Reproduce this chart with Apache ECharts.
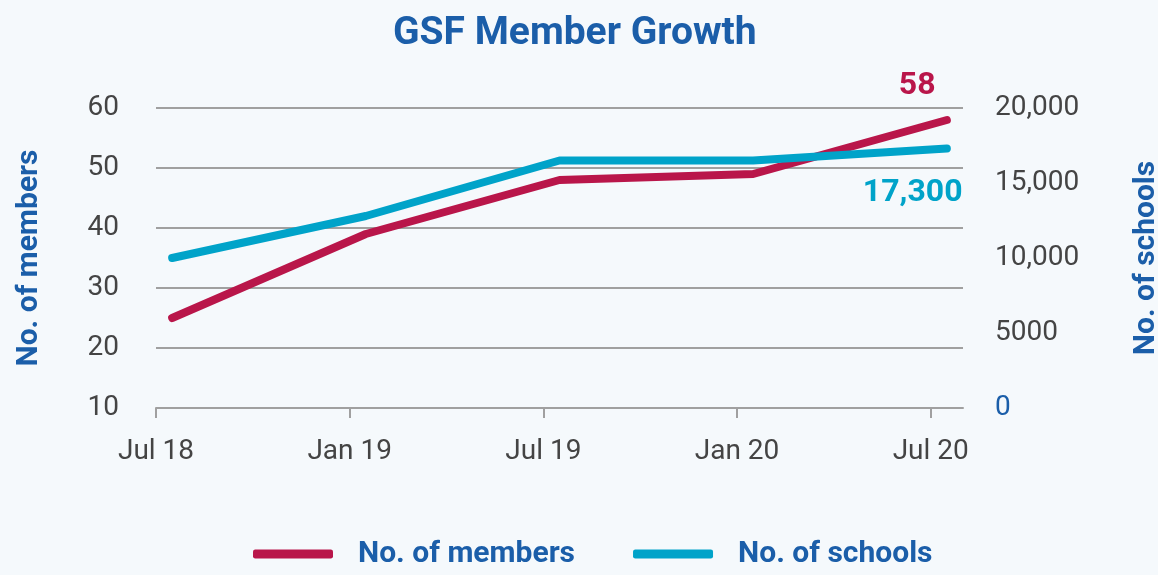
<!DOCTYPE html>
<html>
<head>
<meta charset="utf-8">
<script src="https://cdn.jsdelivr.net/npm/echarts@6/dist/echarts.min.js"></script>
<style>
  html, body { margin: 0; padding: 0; background: #f5f9fc; }
  #chart { width: 1158px; height: 575px; }
</style>
</head>
<body>
<div id="chart"></div>
<script>
// months since Jul 18 (points sit mid-month)
const monthPos = [0.5, 6.5, 12.5, 18.5, 24.5];
const members = [25, 39, 48, 49, 58];
const schools = [10000, 12800, 16500, 16500, 17300];
const xTickPos = [0, 6, 12, 18, 24];
const xTickLabels = ['Jul 18', 'Jan 19', 'Jul 19', 'Jan 20', 'Jul 20'];
const rightTickLabels = { 0: '0', 5000: '5000', 10000: '10,000', 15000: '15,000', 20000: '20,000' };

const BLUE = '#1b5ea9';
const RED = '#b9164a';
const TEAL = '#00a3c9';
const FONT = 'Roboto';

const chart = echarts.init(document.getElementById('chart'));

const option = {
  backgroundColor: '#f5f9fc',
  textStyle: { fontFamily: FONT },
  title: {
    text: 'GSF Member Growth',
    left: 388,
    top: 10,
    textStyle: { color: BLUE, fontSize: 39, fontWeight: 'bold', fontFamily: FONT }
  },
  legend: {
    bottom: 1,
    left: 248,
    icon: 'roundRect',
    itemWidth: 80,
    itemHeight: 9,
    itemGap: 58,
    textStyle: { color: BLUE, fontSize: 30, fontWeight: 'bold', padding: [0, 0, 0, 20] },
    data: ['No. of members', 'No. of schools']
  },
  grid: { left: 156, right: 195, top: 108, bottom: 167, outerBoundsMode: 'none' },
  xAxis: {
    type: 'value',
    min: 0,
    max: 25,
    axisLine: { lineStyle: { color: '#a0a0a0', width: 2 } },
    axisTick: { show: true, length: 10, customValues: xTickPos, lineStyle: { color: '#a0a0a0', width: 2 } },
    axisLabel: {
      customValues: xTickPos,
      color: '#444',
      fontSize: 28,
      margin: 30,
      formatter: v => xTickLabels[xTickPos.indexOf(v)] || ''
    },
    splitLine: { show: false }
  },
  yAxis: [
    {
      type: 'value',
      min: 10,
      max: 60,
      interval: 10,
      name: 'No. of members',
      nameLocation: 'middle',
      nameRotate: 90,
      nameGap: 112,
      nameTextStyle: { color: BLUE, fontSize: 30, fontWeight: 'bold' },
      axisLine: { show: false },
      axisTick: { show: false },
      axisLabel: { color: '#444', fontSize: 28, margin: 37 },
      splitLine: { lineStyle: { color: '#a0a0a0', width: 2 } }
    },
    {
      type: 'value',
      min: 0,
      max: 20000,
      interval: 5000,
      position: 'right',
      name: 'No. of schools',
      nameLocation: 'middle',
      nameRotate: 90,
      nameGap: 168,
      nameTextStyle: { color: BLUE, fontSize: 30, fontWeight: 'bold' },
      axisLine: { show: false },
      axisTick: { show: false },
      axisLabel: {
        fontSize: 28,
        margin: 32,
        formatter: v => (v === 0 ? '{z|0}' : rightTickLabels[v]),
        color: '#444',
        rich: { z: { color: BLUE, fontSize: 28 } }
      },
      splitLine: { show: false }
    }
  ],
  series: [
    {
      name: 'No. of members',
      type: 'line',
      yAxisIndex: 0,
      data: monthPos.map((m, i) => [m, members[i]]),
      symbol: 'none',
      color: RED,
      lineStyle: { width: 8, color: RED, cap: 'round', join: 'round' },
      endLabel: {
        show: true,
        formatter: p => String(p.value[1]),
        color: RED,
        fontSize: 32,
        fontWeight: 'bold',
        offset: [-56, -34]
      }
    },
    {
      name: 'No. of schools',
      type: 'line',
      yAxisIndex: 1,
      data: monthPos.map((m, i) => [m, schools[i]]),
      symbol: 'none',
      color: TEAL,
      lineStyle: { width: 8, color: TEAL, cap: 'round', join: 'round' },
      endLabel: {
        show: true,
        formatter: p => p.value[1].toLocaleString('en-US'),
        color: TEAL,
        fontSize: 32,
        fontWeight: 'bold',
        offset: [-92, 44]
      }
    }
  ]
};

chart.setOption(option);
</script>
</body>
</html>
